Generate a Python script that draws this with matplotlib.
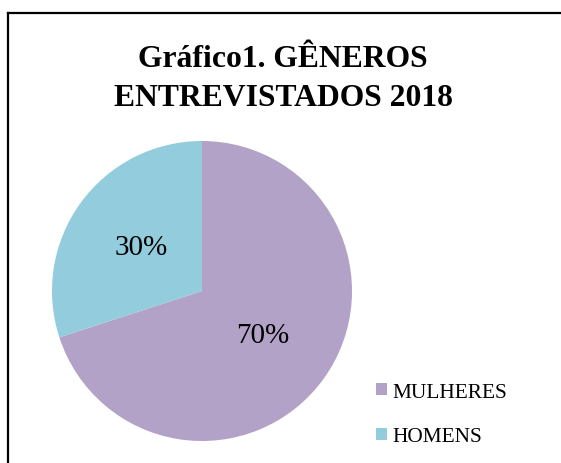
import matplotlib
matplotlib.use("Agg")
import matplotlib.pyplot as plt
from matplotlib.patches import Patch
from matplotlib.lines import Line2D

categories = ["MULHERES", "HOMENS"]
values = [70, 30]
colors = ["#B2A2C7", "#93CDDD"]
title = "Gráfico1. GÊNEROS\nENTREVISTADOS 2018"

W, H = 561, 464
fig = plt.figure(figsize=(W / 100, H / 100), dpi=100)
plt.rcParams['font.family'] = ['Liberation Serif', 'DejaVu Serif']

# outer border (top and left visible)
fig.add_artist(Line2D([8 / W, 8 / W], [0, 1 - 14 / H], transform=fig.transFigure, color="black", lw=1.6))
fig.add_artist(Line2D([8 / W, 1], [1 - 14 / H, 1 - 14 / H], transform=fig.transFigure, color="black", lw=1.6))

cx, cy, r = 202, 292, 150
ax = fig.add_axes([(cx - r) / W, (H - cy - r) / H, 2 * r / W, 2 * r / H])
wedges, texts, autotexts = ax.pie(values, colors=colors, startangle=90, counterclock=False,
                                  autopct="%1.0f%%", pctdistance=0.5,
                                  textprops=dict(fontsize=21, color="black"))
ax.set_aspect("equal")
ax.set_xlim(-1, 1)
ax.set_ylim(-1, 1)

fig.text(283 / W, 1 - 79 / H, title, ha="center", va="center", fontsize=22.8,
         fontweight="bold", linespacing=1.44)

handles = [Patch(facecolor=c, edgecolor="none") for c in colors]
fig.legend(handles, categories, loc="center left", bbox_to_anchor=(376 / W, 1 - 415.5 / H),
           frameon=False, fontsize=15.4, handlelength=0.5, handleheight=0.5,
           handletextpad=0.25, labelspacing=1.2, borderpad=0, borderaxespad=0)

fig.savefig("out.png", dpi=100)
